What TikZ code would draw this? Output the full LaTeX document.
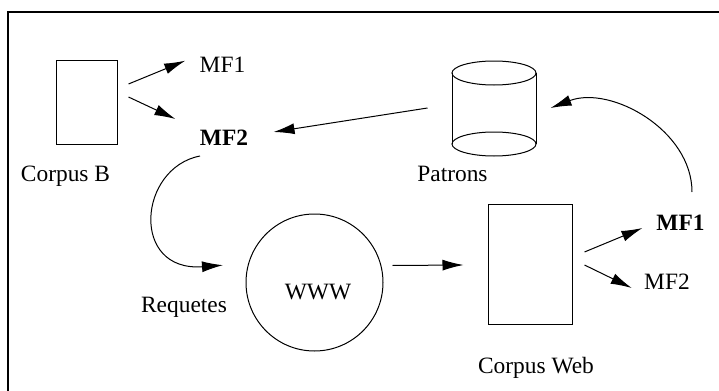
\documentclass[tikz,border=0pt]{standalone}
\usepackage{fontspec}
\setmainfont{Liberation Serif}
\usetikzlibrary{arrows.meta}
\begin{document}
\begin{tikzpicture}
	[x=0.5pt,y=-0.5pt,line width=0.5pt,
	txt/.style={inner sep=0pt,anchor=base,font=\fontsize{11.7}{14}\selectfont},
	doc/.style={draw,rectangle,inner sep=0pt},
	arr/.style={-{Latex[length=10.5pt,width=5.5pt]}}]
	\useasboundingbox (0,0) rectangle (719,391);
	\draw[line width=0.6pt](8,391) --(8,12) --(719,12);
	% documents
	\node[doc,minimum width=30.5pt,minimum height=42pt,name=corpusB]at(86.5,102){};
	\node[doc,minimum width=42pt,minimum height=60pt,name=corpusWeb]at(530,264){};
	\node[txt,name=corpusBlabel]at(65.5,181){Corpus B};
	\node[txt,name=corpusWeblabel]at(536,373.5){Corpus Web};
	% patrons
	\node[minimum width=42pt,minimum height=47.5pt,inner sep=0pt,name=patrons]at(494,108.5){};
	\draw(494,73) ellipse[x radius=42,y radius=12];
	\draw(494,144) ellipse[x radius=42,y radius=12];
	\draw(452,73) --(452,144) (536,73) --(536,144);
	\node[txt,name=patronslabel]at(452.5,181){Patrons};
	% web
	\node[draw,circle,minimum size=68.5pt,inner sep=0pt,name=www]at(314.5,282.5){};
	\node[txt,name=wwwlabel]at(318,299.5){WWW};
	\node[txt,name=requetes]at(184,312.7){Requetes};
	% features
	\node[txt,name=mfOneA]at(222.5,72.7){MF1};
	\node[txt,name=mfTwoA]at(224,145){\bfseries MF2};
	\node[txt,name=mfOneB]at(680.5,230.5){\bfseries MF1};
	\node[txt,name=mfTwoB]at(667,289.5){MF2};
	\draw[arr]([shift={(11,-18)}]corpusB.east) --([shift={(-14,-12)}]mfOneA.base west);
	\draw[arr]([shift={(11,-5)}]corpusB.east) --([shift={(-24,-26)}]mfTwoA.base west);
	\draw[arr]([shift={(-24,-0.5)}]patrons.west) --([shift={(25,-13)}]mfTwoA.base east);
	\draw[arr]([shift={(-24,11)}]mfTwoA.base) .. controls +(-62,12) and +(-93,7) .. ([shift={(39,-31.7)}]requetes.north);
	\draw[arr]([shift={(9,-17)}]www.east) --([shift={(-24,1)}]corpusWeb.west);
	\draw[arr]([shift={(12,-12)}]corpusWeb.east) --([shift={(-13.5,-2.5)}]mfOneB.base west);
	\draw[arr]([shift={(12,1)}]corpusWeb.east) --([shift={(-12,-1.5)}]mfTwoB.base west);
	\draw[arr]([shift={(11.5,-38.5)}]mfOneB.base) .. controls +(0,-62) and +(60,-23) .. ([shift={(14,-0.5)}]patrons.east);
\end{tikzpicture}
\end{document}
